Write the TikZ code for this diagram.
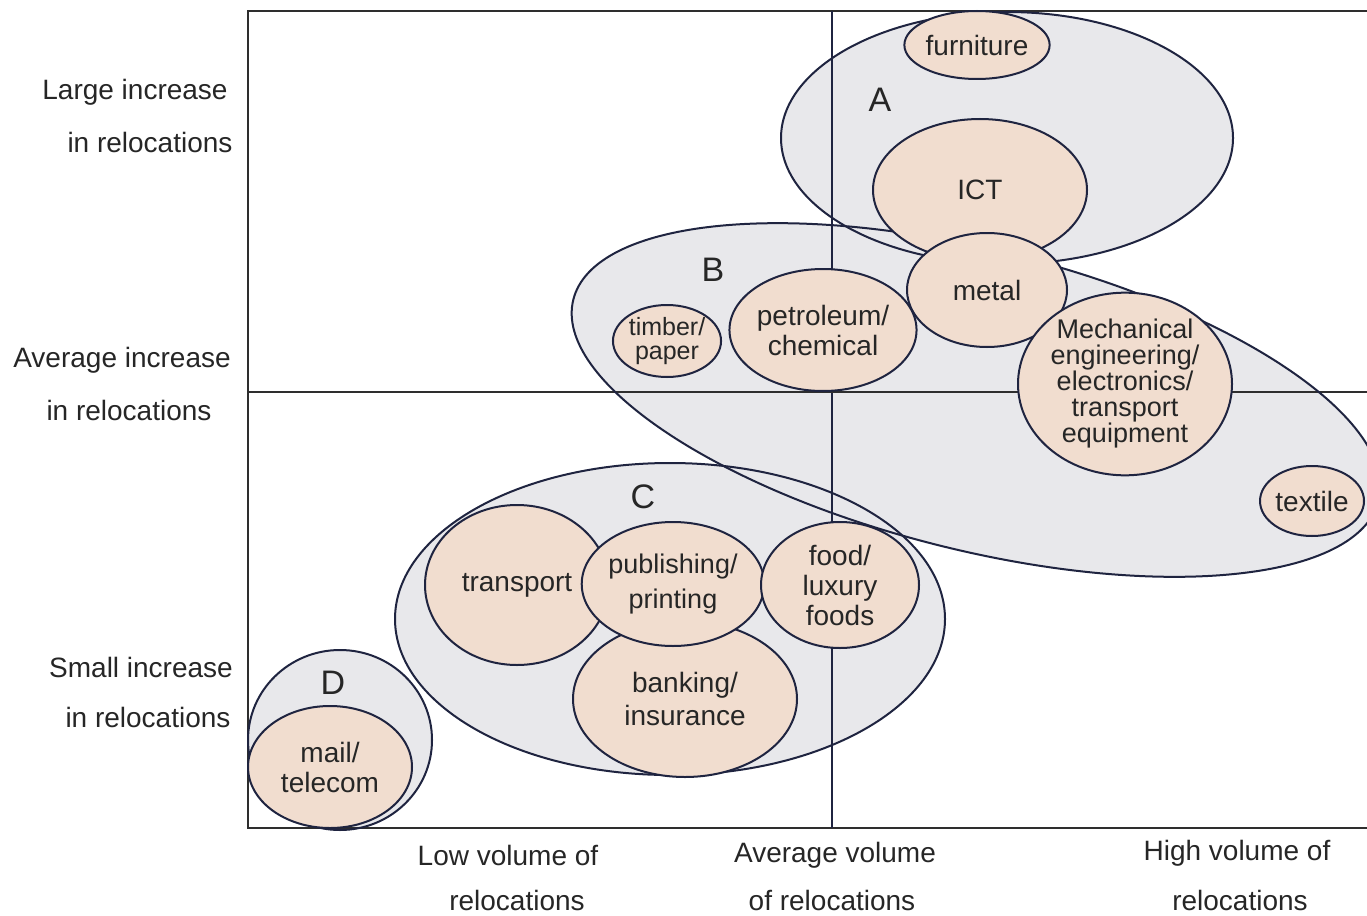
\documentclass[tikz,border=0pt]{standalone}
\usepackage{fontspec}
\setmainfont{Liberation Sans}
\usetikzlibrary{shapes.geometric}
\definecolor{grp}{HTML}{E8E8EB}
\definecolor{sect}{HTML}{F1DDCF}
\definecolor{edge}{HTML}{1F2440}
\definecolor{ink}{HTML}{262626}
\definecolor{axis}{HTML}{2E2E2E}
\begin{document}
\begin{tikzpicture}[x=1pt,y=-1pt,
  grpfill/.style={ellipse, fill=grp, inner sep=0pt, outer sep=0pt},
  grpline/.style={ellipse, draw=edge, line width=2pt, inner sep=0pt, outer sep=0pt},
  sector/.style={ellipse, fill=sect, draw=edge, line width=2pt, inner sep=0pt, align=center, text=ink, font=\fontsize{28}{30}\selectfont},
  axlab/.style={text=ink, font=\fontsize{28}{32}\selectfont, inner sep=0pt},
  letter/.style={text=ink, font=\fontsize{34}{38}\selectfont, inner sep=0pt},
  axline/.style={draw=axis, line width=2pt}]

\useasboundingbox (0,0) rectangle (1367,915);

% group fills
\node[grpfill, minimum width=452pt, minimum height=252pt] (A) at (1007,138) {};
\node[grpfill, rotate=-14, minimum width=830pt, minimum height=300pt] (B) at (976,400) {};
\node[grpfill, minimum width=550pt, minimum height=312pt] (C) at (670,619) {};
\node[grpfill, minimum width=184pt, minimum height=180pt] (D) at (340,740) {};

% frame and axes
\coordinate (tl) at (248,11);
\coordinate (tr) at (1367,11);
\coordinate (bl) at (248,828);
\coordinate (br) at (1367,828);
\coordinate (vt) at (832,11);
\coordinate (vb) at (832,828);
\coordinate (hl) at (248,392);
\coordinate (hr) at (1367,392);
\draw[axline] (tr) -- (tl) -- (bl) -- (br);
\draw[axline, draw=edge] (vt) -- (vb);
\draw[axline] (hl) -- (hr);

% group outlines
\node[grpline, minimum width=452pt, minimum height=252pt] (Aline) at (A) {};
\node[grpline, rotate=-14, minimum width=830pt, minimum height=300pt] (Bline) at (B) {};
\node[grpline, minimum width=550pt, minimum height=312pt] (Cline) at (C) {};
\node[grpline, minimum width=184pt, minimum height=180pt] (Dline) at (D) {};

% group letters
\node[letter] (lA) at (880,100) {A};
\node[letter] (lB) at (713,270) {B};
\node[letter] (lC) at (643,497) {C};
\node[letter] (lD) at (333,683) {D};

% sectors
\node[sector, minimum width=104pt, minimum height=68pt] (furn) at (977,45) {furniture};
\node[sector, minimum width=214pt, minimum height=142pt] (ict) at (980,190) {ICT};
\node[sector, minimum width=160pt, minimum height=114pt] (metal) at (987,290) {metal};
\node[sector, minimum width=214pt, minimum height=158pt, font=\fontsize{27}{26}\selectfont] (mech) at (1125,384) {Mechanical\\engineering/\\electronics/\\transport\\equipment};
\node[sector, minimum width=104pt, minimum height=70pt] (text) at (1312,501) {textile};
\node[sector, minimum width=162pt, minimum height=122pt] (petro) at (823,330) {petroleum/\\chemical};
\node[sector, minimum width=108pt, minimum height=72pt, font=\fontsize{25}{24}\selectfont] (timber) at (667,341) {timber/\\paper};
\node[sector, minimum width=224pt, minimum height=156pt, font=\fontsize{28}{33}\selectfont] (bank) at (685,699) {banking/\\insurance};
\node[sector, minimum width=184pt, minimum height=160pt] (trans) at (517,585) {transport};
\node[sector, minimum width=154pt, minimum height=124pt, font=\fontsize{27}{35}\selectfont] (publ) at (673,584) {publishing/\\printing};
\node[sector, minimum width=158pt, minimum height=126pt] (food) at (840,585) {food/\\luxury\\foods};
\node[sector, minimum width=164pt, minimum height=122pt] (mail) at (330,767) {mail/\\telecom};

% axis labels
\node[axlab] (y1a) at (135,92) {Large increase};
\node[axlab] (y1b) at (150,142) {in relocations};
\node[axlab] (y2a) at (122,360) {Average increase};
\node[axlab] (y2b) at (129,410) {in relocations};
\node[axlab] (y3a) at (141,667) {Small increase};
\node[axlab] (y3b) at (148,717) {in relocations};
\node[axlab] (x1a) at (508,855) {Low volume of};
\node[axlab] (x1b) at (517,900) {relocations};
\node[axlab] (x2a) at (835,855) {Average volume};
\node[axlab] (x2b) at (832,900) {of relocations};
\node[axlab] (x3a) at (1237,853) {High volume of};
\node[axlab] (x3b) at (1240,900) {relocations};
\end{tikzpicture}
\end{document}
